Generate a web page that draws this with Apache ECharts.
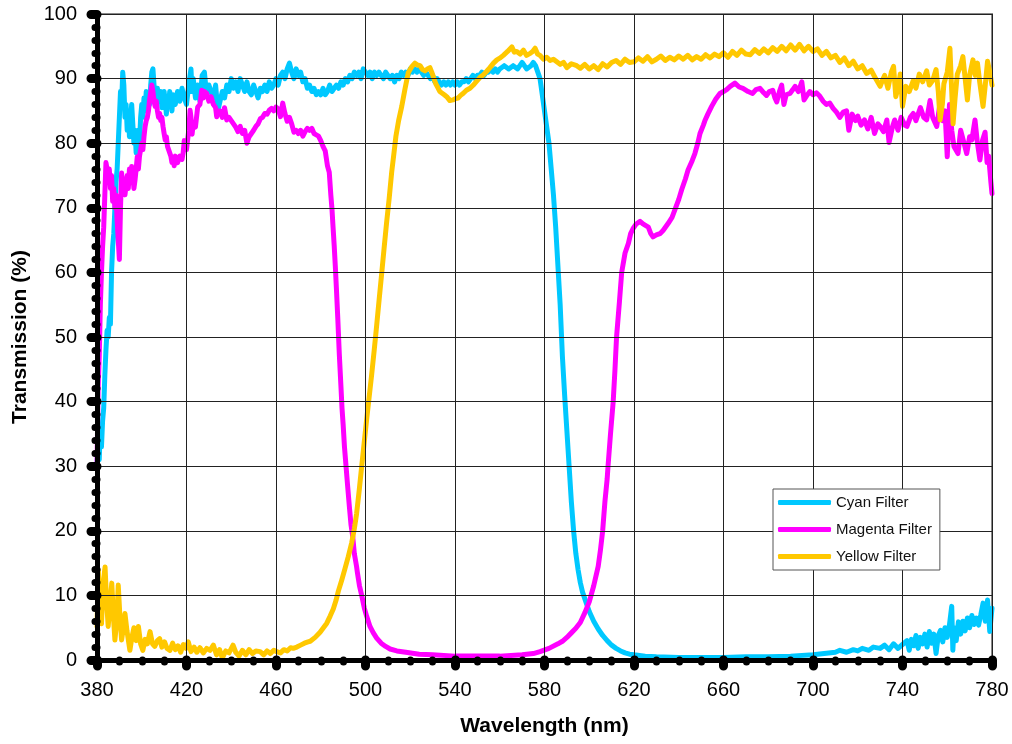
<!DOCTYPE html>
<html>
<head>
<meta charset="utf-8">
<title>Filter transmission</title>
<script src="https://cdn.jsdelivr.net/npm/echarts@6/dist/echarts.min.js"></script>
<style>
  html, body { margin: 0; padding: 0; background: #fff; }
  #main { width: 1012px; height: 744px; }
</style>
</head>
<body>
<div id="main"></div>
<script>
// wavelength (nm) / transmission (%)
const cyanNm = [380,380.5,381,381.5,382,382.5,383,383.5,384,384.5,385,385.5,386,386.5,387,387.5,388,388.5,389,389.5,390,390.5,391,391.5,392,392.5,393,393.5,394,394.5,395,395.5,396,396.5,397,397.5,398,398.5,399,399.5,400,400.5,401,401.5,402,402.5,403,403.5,404,404.5,405,405.5,406,406.5,407,407.5,408,408.5,409,409.5,410,410.5,411,411.5,412,412.5,413,413.5,414,415,416,417,418,419,420,421,422,422.5,423,424,425,426,427,428,429,430,431,432,433,434,435,436,437,438,439,440,441,442,443,444,445,446,447,448,449,450,451,452,453,454,455,456,457,458,459,460,461,462,463,464,465,466,467,468,469,470,471,472,473,474,475,476,477,478,479,480,481,482,483,484,485,486,487,488,489,490,491,492,493,494,495,496,497,498,499,500,501,502,503,504,505,506,507,508,509,510,511,512,513,514,515,516,517,518,519,520,521,522,523,524,525,526,527,528,529,530,531,532,533,534,535,536,537,538,539,540,541,542,543,544,545,546,547,548,549,550,551,552,553,554,555,556,557,558,559,560,562,564,566,568,570,572,574,575,576,577,578,579,580,581,582,583,584,585,586,587,588,589,590,591,592,593,594,595,596,597,598,599,600,602,604,606,608,610,612,614,616,618,620,625,630,640,650,660,670,680,690,700,705,710,712,715,718,720,722,725,727,730,732,734,736,738,740,742,743,744,745,746,747,748,749,750,751,752,753,754,755,756,757,758,759,760,761,762,762.5,763,764,765,766,767,768,769,770,771,772,773,774,775,776,777,778,779,780];
const cyanT = [30,34,31,36,33,37,39,44,48,51,50,53,52,60,64,66,70,74,76,80,84,88,86,91,89,84,86,82,85,81,84,86,83,80,82,78.5,80,82,80,84,86,84,87,85,88,86,87.5,86,89,91,91.5,89,88,86,88.5,87,86.5,88,85.5,87,88,86.5,84.5,87,86,88,86.5,85,87.5,86,88,86.5,88.5,87,86,89,91.5,88,90,87,89,86.5,90.5,91,87.5,89,88,87,89,85,86.5,88,87,89,88,90,88.5,89.5,88,90,89,88,89.5,88,87.5,89,88,87,88.5,88,89,88,89.5,88.5,89,90,89,90.5,91,90,91.5,92.4,91,90,91.5,90.5,91,89.5,90,88.5,89,88,88.5,87.5,88,87.5,88.5,87.5,88,89,88,88.5,89,88.5,89.5,89,90,89.5,90.5,90,91,90.5,91,90,91.5,91,90.5,91,90,91,90.5,91,90.5,90,91,90.5,90,90.5,89.5,90.5,90,91,90.5,91,90.5,91.5,91,91.5,91,91.5,91,90.5,91,90.5,90,90.5,89.5,90,89.5,89,89.5,89,89.5,89,89.5,89,89.5,89,89.5,89.5,90,89.5,90,90.5,90,90.5,90.5,91,90.5,91,91,91.5,91,91.5,91,91.5,92,91.5,92,91.5,92.5,91.5,92,92.5,92,91,90,87.5,85,82.5,80,76,72,67,61,55,47,41,35.5,30,24.5,20,16.5,14,12,10.5,9.5,8.5,7.5,6,4.8,3.8,3,2.3,1.8,1.4,1.1,0.9,0.8,0.6,0.5,0.4,0.4,0.4,0.5,0.5,0.6,0.8,1,1.2,1.5,1.2,1.6,1.4,1.8,1.5,2,1.8,2.3,1.6,2.5,1.8,2.4,3,1.5,3.2,2.2,3.8,1.8,3.5,2.5,4,2,4.4,2.6,4,1,3.8,4.6,2.8,5,3.5,5.5,8.3,1.5,5,3,5.9,4,6,4.5,6.5,5,6.9,5.5,6.5,5.4,7,8.8,6,9.3,4.4,8];

const magentaNm = [380,380.5,381,381.5,382,382.5,383,383.5,384,384.5,385,385.5,386,386.5,387,387.5,388,388.5,389,389.5,390,390.5,391,391.5,392,392.5,393,393.5,394,394.5,395,395.5,396,396.5,397,397.5,398,398.5,399,399.5,400,400.5,401,401.5,402,402.5,403,403.5,404,404.5,405,405.5,406,406.5,407,407.5,408,408.5,409,409.5,410,410.5,411,411.5,412,413,413.5,414,414.5,415,416,417,418,418.5,419,420,421,421.6,422,422.5,423,424,425,426,426.8,427.5,428,429,430,431,432,433,433.5,434,435,436,437,438,439,440,441,442,443,444,445,446,447,448,449,450,451,452,453,454,455,456,457,458,459,460,461,462,463,464,465,466,467,468,469,470,471,472,473,474,475,476,477,478,479,480,481,482,483,483.8,484.5,485,485.5,486,486.5,487,487.6,488.3,489,489.5,490,490.6,491.3,492,492.8,493.5,494.3,495,496,496.4,497.3,498.3,499.5,500.5,502,503.5,505,507,509,511,514,518,524,530,540,550,560,565,570,575,578,582,586,588,590,592,594,596,598,600,602,604,605,606,607,608,608.4,609.5,610.7,611.5,612.2,613.5,614.5,616,617.5,618.5,619.6,621,622.7,624,626.4,627.5,628.5,630,631.6,633,635.3,637,638.3,640,641.3,643,644.1,646,647.2,648.5,649.5,651,651.7,653,654.7,656.5,658.4,660,661.4,663,665.1,667,668.7,671,673,674.5,676.3,678,679.2,680.5,682,683,683.8,685,686,687,688,689.7,691,692,693.5,695,696,697.5,698.6,700,701.5,703,704.5,706,707.5,709,710.5,712,713.5,715,716,717.5,719,720,721.5,723,724.5,726,727.5,729,730,731.5,733,734,735.5,736.5,738,739.4,741,742,743.5,744.8,746,748,749.5,750.8,752.3,753.5,755.3,756.5,758,759,760,761,762,763,764.8,766,767.5,768.7,770,771,772.4,773.5,774.6,775.8,776.9,777.8,778.5,779,779.5,780];
const magentaT = [30,42,47,55,60,64,67,72,77,76,74,76,73,75,71,73,70,72,68,65,62,70,75.4,73,74.5,72,73.5,75,73,76,74,76.4,75,73,74.3,76,77.9,76,78,79,80,79,81,82.6,83.5,84,85,86.7,87,89,88,86.5,85.7,86.5,85,84,84.6,83.5,84,82.6,81.5,80.5,81,79.5,79,78,77,77.5,76.5,78,77,78,77.5,78.5,80.4,79,82,85.1,84,81.4,83,82.5,85.6,86,88.2,87,88,87.7,86.5,87.2,86,85.5,84.1,85,85,84,85.5,83.6,84,83.5,83,82.5,81.8,82.6,81.5,82,80,81,81.5,82,82.6,83,83.8,84,84.6,84.5,85.1,85.4,85,85.6,85.3,84.1,86.2,84.6,83.4,84,83,81.7,82,81.5,82,81.1,81.8,82.3,82,82.3,81.5,81.3,81.1,80.4,79.5,78.8,76.5,75.5,72,69.9,67,64.2,61,57.5,53,47.3,42.5,39,36.5,33,30,27,23.7,21,19.1,16.5,14.5,13.5,11.5,10,8,6.8,5.2,4.2,3.4,2.6,2.1,1.7,1.4,1.2,0.9,0.8,0.6,0.6,0.6,0.7,0.8,1,1.3,1.8,2.5,2.9,3.5,4.2,4.9,5.8,7.3,9,11.5,14.5,17,20,24.5,28,30,35,40,45,50,55.5,60,63,64.5,66,66.8,67.5,67.9,67.5,67,66,65.5,65.8,66,66.5,67.6,68.5,69.7,71.3,72.8,74.5,75.8,77.3,78.4,80,81.5,82.8,83.5,84.5,85.7,86.8,87.7,88,88.3,88.8,89.3,88.7,88.5,88,87.7,88.3,88.5,87.8,87.4,88,88.2,87,86.4,88,89,86,87.5,87.7,88.3,88.8,88,89.5,86.7,87.5,88,87.5,87.8,87.3,86.5,86,86.2,85.4,84.8,84,84.8,85,82,84.5,83.5,84.2,82.8,83.6,82.2,84,81.5,83,82.6,81.8,83.6,80.1,82.5,83.6,82,84,82.8,82.6,84,84.6,83.5,85.5,84,83.6,86.6,84,82.6,85.5,83.5,85,77.9,86,82,79.5,78.4,82,80,78.4,81,80.5,83.6,80,77.4,80.5,81.7,77,78,76,74,72.2];

const yellowNm = [380,380.6,381.3,382,382.8,383.6,384.3,385,385.7,386.6,387.3,388,388.8,389.5,390.2,391,391.8,392.5,393.4,394.7,395.6,396.5,397.5,398.5,399.5,400.5,401.5,402.5,403.7,404.8,405.8,407,408,409,410.2,411.3,412.6,413.8,415,416.2,417.4,418.6,419.8,420.8,422,423.4,424.6,426,427.5,429,430.5,432,433.4,434.8,436,437.5,439,440.8,442,443.5,445,446.5,448,449.5,451,452.9,454.5,456,457.5,459,460.3,462,463.5,465,466.5,467.7,469.3,471,472.7,474.3,475.3,477.5,479.7,481.2,482.7,484.2,485.6,486.8,487.9,489.4,490.8,492.3,493.8,495,496,497.2,498.3,499.4,500.5,501.6,502.7,503.9,505,506.1,507.2,508.3,509.4,510.6,511.7,512.7,513.6,514.8,516.2,517.6,519.1,520.6,522.1,523.2,524.4,525.5,526.6,527.7,528.8,529.6,530.3,531.4,532.5,533.2,534,535.2,536.3,537.7,539.1,540.2,541.4,542.5,543.6,545.1,546.7,548.2,549.7,551.2,552.7,554.1,555.6,557.2,558.7,560.2,561.6,563.5,565.4,566.5,567.6,569.1,570.6,572,573.6,574.7,575.8,576.9,578,579.5,581,582.5,584,585.5,587,588.5,590,592,594.4,596,598,600,602,604,606,608,610,612,614,616,618,620,622,624,626,628,630,632,634,636,638,640,642,644,646,648,650,652,654,656,658,660,662,664,666,668,670,672,674,676,678,680,682,684,686,688,690,692,694,696,698,700,702,704,706,708,710,712,714,716,718,720,722,724,726,728,730,731,732,733.5,735,736,737,738,739,740,741.5,743,744.8,746,747.5,749,750.8,752,753.5,755,756,756.8,757.8,758.5,760,761.2,762,762.6,763.5,764.5,766,767,768,769,770,771.5,772.5,773.5,774.5,776,777,778,779,780];
const yellowT = [5.2,13.9,7,5.6,12,14.4,9,5.2,8,11.9,7,3.1,6,11.6,7,3.1,5,7.2,4.5,1.5,3.5,5,3,5.2,2.5,1.5,3.2,2.5,4.4,2.5,2.1,3,3.3,2,2.8,1.8,1.5,2.6,1.6,2.2,1.2,2.4,1.8,2.8,1.3,2,1.2,1.9,1.1,1.8,1.5,2.3,0.8,1.6,0.3,1.4,1.1,2.3,1.2,0.6,1.5,0.8,1.6,1,1.4,1.3,0.8,1.4,1,1.5,1.3,1.1,1.6,1.4,1.9,1.8,2,2.3,2.6,2.8,2.9,3.5,4.3,5,5.7,6.8,7.9,9.2,10.7,12.4,14.1,16,18.1,20.3,22.6,26.3,30,33.6,37.2,40.6,44,48,51.8,55.8,59.7,63.7,67.6,71.5,75.5,78.4,81.1,83.5,85.7,88.3,90.9,91.8,92.4,92.1,92,91.4,91.2,91.5,91.7,91,90.3,89.2,88.5,88,87.7,87.5,87.2,86.6,86.7,86.9,87,87.4,87.7,88.2,88.5,89,89.6,90.2,90.6,91.1,91.7,92.4,92.9,93.2,93.6,94.2,94.9,94.1,94.2,93.8,94.4,93.6,93.9,94.2,94.7,93.8,93.6,93,93.3,92.8,93,92.6,92.2,92.5,91.7,92.3,92,91.6,92.2,91.5,92,91.4,92.3,91.8,92.5,92.8,92.2,93,92.5,92.6,93.2,92.7,93.4,92.6,93,93.5,92.8,93.3,92.9,93.5,93,93.6,92.9,93.4,93,93.7,93.2,93.8,93.4,94,93.3,94.2,93.6,94.4,93.8,93.7,94.5,93.9,94.6,94,94.8,94.2,95,94.3,95.2,94.4,95.3,94.3,95,94.2,94.6,93.6,94.2,93.2,93.6,92.5,93.2,92,92.7,91.5,92,90.8,91.3,90,88.8,89.7,90.5,88.5,91,91.9,87.2,88.6,90.7,85.7,88.8,88,89.7,88.5,90.7,89.5,91.2,89,89.7,91.4,88,83.6,86,89.2,91,94.7,88,83,87,90.7,92,93.4,90,86.7,90.5,92.9,90.5,92.4,89.5,85.7,89,92.7,91,89];

const xTicks = { min: 380, max: 780, step: 40, minorSteps: 4 };
const yTicks = { min: 0, max: 100, step: 10, minorSteps: 5 };

const zip = (xs, ys) => xs.map((x, i) => [x, ys[i]]);
const font = 'Liberation Sans, Arial, sans-serif';

const chart = echarts.init(document.getElementById('main'), null, { renderer: 'canvas' });

const axisBase = {
  type: 'value',
  nameLocation: 'middle',
  nameTextStyle: { fontFamily: font, fontSize: 21, fontWeight: 'bold', color: '#000' },
  axisLine: { show: true, onZero: false, lineStyle: { color: '#000', width: 5 } },
  axisTick: { show: true, length: 6, lineStyle: { color: '#000', width: 9, cap: 'round' } },
  minorTick: { show: true, length: 2, lineStyle: { color: '#000', width: 7, cap: 'round' } },
  axisLabel: { fontFamily: font, fontSize: 20, color: '#000', margin: 20 },
  splitLine: { show: true, lineStyle: { color: '#222', width: 1 } },
  z: 5
};

const series = [
  { name: 'Cyan Filter', color: '#00C8FF', data: zip(cyanNm, cyanT) },
  { name: 'Magenta Filter', color: '#FF00FF', data: zip(magentaNm, magentaT) },
  { name: 'Yellow Filter', color: '#FFC800', data: zip(yellowNm, yellowT) }
].map(s => ({
  name: s.name,
  type: 'line',
  data: s.data,
  showSymbol: false,
  symbol: 'none',
  color: s.color,
  lineStyle: { color: s.color, width: 5, cap: 'round', join: 'round' },
  z: 2
}));

chart.setOption({
  animation: false,
  backgroundColor: '#fff',
  textStyle: { fontFamily: font },
  grid: {
    left: 97, right: 20, top: 14, bottom: 84,
    show: true, borderColor: '#888', borderWidth: 2, backgroundColor: 'transparent'
  },
  legend: {
    z: 10,
    orient: 'vertical',
    left: 773, top: 489,
    icon: 'roundRect',
    itemWidth: 53, itemHeight: 5, itemGap: 12,
    itemStyle: { borderWidth: 0 },
    padding: [6, 8, 6, 5],
    backgroundColor: '#fff',
    borderColor: '#555', borderWidth: 1, borderRadius: 0,
    textStyle: { fontFamily: font, fontSize: 15, color: '#111' },
    data: ['Cyan Filter', 'Magenta Filter', 'Yellow Filter']
  },
  xAxis: Object.assign({}, axisBase, {
    name: 'Wavelength (nm)', nameGap: 56,
    min: xTicks.min, max: xTicks.max, interval: xTicks.step,
    minorTick: Object.assign({}, axisBase.minorTick, { splitNumber: xTicks.minorSteps })
  }),
  yAxis: Object.assign({}, axisBase, {
    name: 'Transmission (%)', nameGap: 66, nameRotate: 90,
    min: yTicks.min, max: yTicks.max, interval: yTicks.step,
    minorTick: Object.assign({}, axisBase.minorTick, { splitNumber: yTicks.minorSteps })
  }),
  series: series
});
</script>
</body>
</html>
